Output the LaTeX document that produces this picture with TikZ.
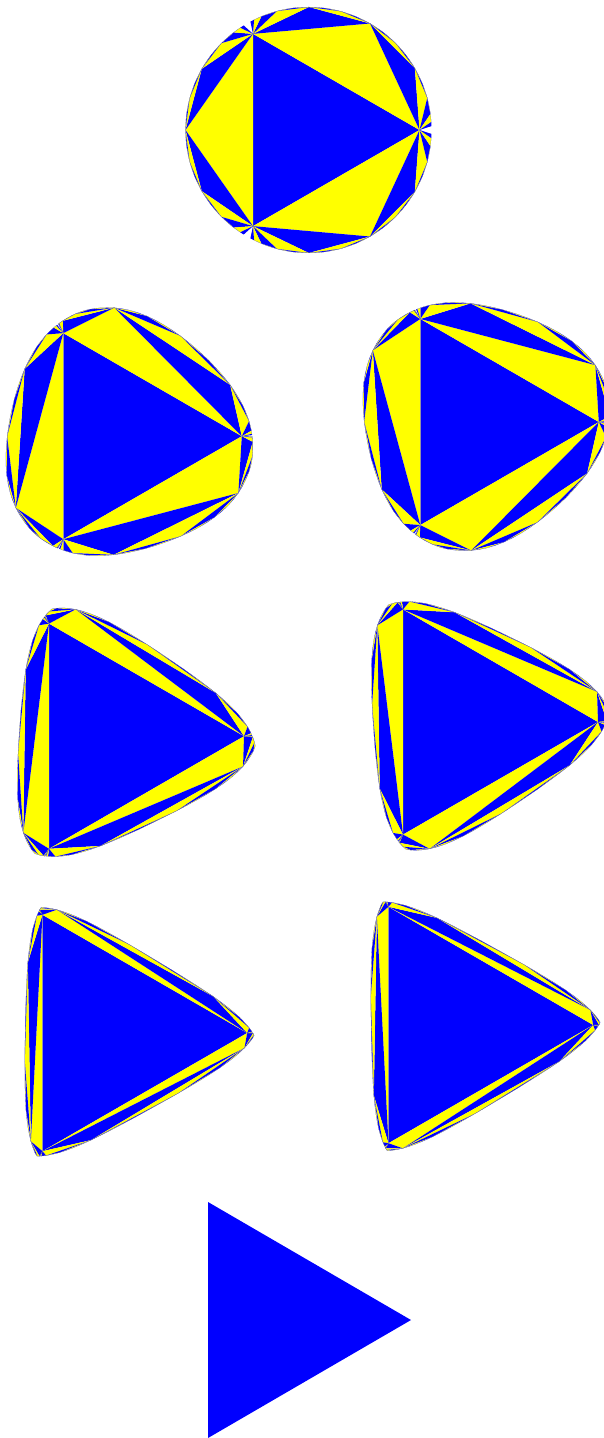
\documentclass[tikz,border=0pt]{standalone}
\definecolor{tileblue}{RGB}{0,0,255}
\definecolor{tileyellow}{RGB}{255,255,0}
\tikzset{
  tile0/.style={fill=tileblue},
  tile1/.style={fill=tileyellow},
}
% one triangulated disk: centre x, centre y, mirror (+1/-1), vertex radius,
% rim radius, flat radius, flat turn, crowding, crowding centre
\newcommand{\fanframe}[9]{%
  \foreach \p in {0,...,191} {
    \pgfmathtruncatemacro{\sctr}{div(\p,64)}
    \pgfmathtruncatemacro{\rem}{mod(\p,64)}
    \ifnum\rem=0
      \pgfmathsetmacro{\ang}{120*\sctr}
      \pgfmathsetmacro{\rad}{#4}
    \else
      \pgfmathsetmacro{\uu}{\rem/64}
      \pgfmathsetmacro{\vv}{(tanh(#8*(\uu-#9))-tanh(-#8*#9))/(tanh(#8*(1-#9))-tanh(-#8*#9))}
      \pgfmathsetmacro{\ang}{120*(\sctr+\vv)}
      \pgfmathsetmacro{\edgeang}{mod(\ang-#7+720,120)-60}
      \pgfmathsetmacro{\rad}{#5/(1+(#5*cos(\edgeang)/#6)^6)^(1/6)}
    \fi
    \coordinate (q\p) at ({#1+\rad*cos(\ang)},{#2-#3*\rad*sin(\ang)});
  }
  % the first triangle, then the fans round it
  \fill[tile0] (q0) -- (q64) -- (q128) -- cycle;
  \foreach \k in {1,...,6} {
    \pgfmathtruncatemacro{\stp}{64/2^(\k-1)}
    \pgfmathtruncatemacro{\hlf}{\stp/2}
    \pgfmathtruncatemacro{\cnt}{3*2^(\k-1)-1}
    \pgfmathtruncatemacro{\odd}{mod(\k,2)}
    \foreach \j in {0,...,\cnt} {
      \pgfmathtruncatemacro{\qa}{\j*\stp}
      \pgfmathtruncatemacro{\qm}{\qa+\hlf}
      \pgfmathtruncatemacro{\qb}{mod(\qa+\stp,192)}
      \fill[tile\odd] (q\qa) -- (q\qm) -- (q\qb) -- cycle;
    }
  }
}
\begin{document}
\begin{tikzpicture}[x=0.5pt, y=-0.5pt]
  \useasboundingbox (0,0) rectangle (604,1438);
  % ---------- the round disk ----------
  \fanframe{308.5}{130}{1}{111}{123}{1000}{0}{0.1}{0.5}
  % ---------- second row ----------
  \fanframe{122.8}{436.2}{1}{119}{132}{125}{-12}{5}{0.37}
  \fanframe{479.8}{422}{-1}{119}{132}{125}{-12}{5}{0.37}
  % ---------- third row ----------
  \fanframe{114}{736.2}{1}{130}{146}{96}{-4}{7}{0.35}
  \fanframe{468}{722}{-1}{130}{146}{96}{-4}{7}{0.35}
  % ---------- fourth row ----------
  \fanframe{110.7}{1033}{1}{136.5}{154}{86}{-1}{9}{0.34}
  \fanframe{456.7}{1025}{-1}{136.5}{154}{86}{-1}{9}{0.34}
  % ---------- the bare triangle ----------
  \coordinate (ta) at (411,1320);
  \coordinate (tb) at (208,1202);
  \coordinate (tc) at (208,1438);
  \fill[tile0] (ta) -- (tb) -- (tc) -- cycle;
\end{tikzpicture}
\end{document}
